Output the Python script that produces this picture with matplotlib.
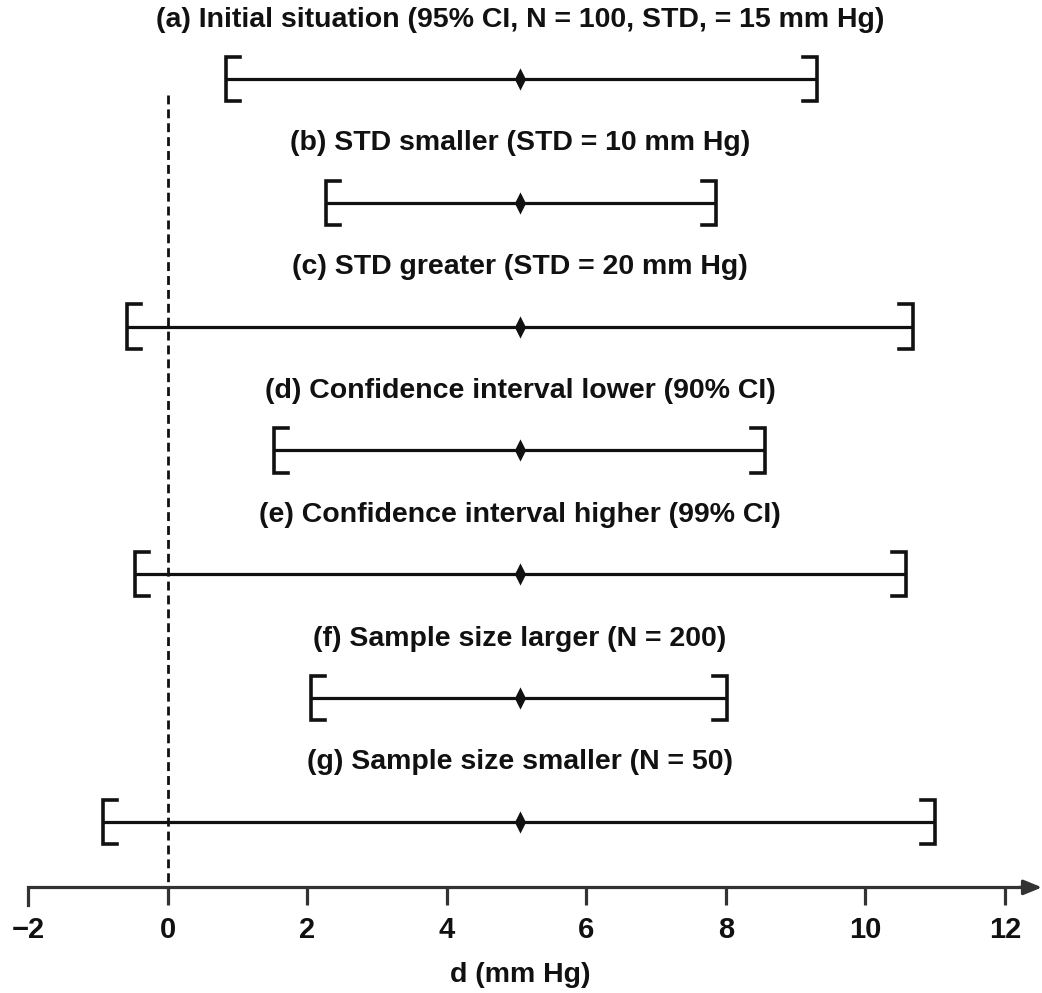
import matplotlib.pyplot as plt

# 各区間の値 (d, mm Hg)
titles = [
    '(a) Initial situation (95% CI, N = 100, STD, = 15 mm Hg)',
    '(b) STD smaller (STD = 10 mm Hg)',
    '(c) STD greater (STD = 20 mm Hg)',
    '(d) Confidence interval lower (90% CI)',
    '(e) Confidence interval higher (99% CI)',
    '(f) Sample size larger (N = 200)',
    '(g) Sample size smaller (N = 50)',
]
means = [5.05, 5.05, 5.05, 5.05, 5.05, 5.05, 5.05]
lower = [0.84, 2.27, -0.58, 1.53, -0.46, 2.06, -0.93]
upper = [9.30, 7.86, 10.68, 8.56, 10.58, 8.01, 11.00]
ticks = [-2, 0, 2, 4, 6, 8, 10, 12]

plt.rcParams['font.family'] = ['Liberation Sans', 'DejaVu Sans']
plt.rcParams['font.weight'] = 'bold'

fig = plt.figure(figsize=(10.42, 9.93), dpi=100)
ax = fig.add_axes([0, 0, 1, 1])
ax.set_xlim(-2.40, 12.53)
ax.set_ylim(7.383, -0.638)
ax.axis('off')

lw = 2.3
bw = 0.2    # 括弧の横幅
bh = 0.18   # 括弧の高さ(半分)
ax_y = 6.53
diamond = [(0, 1), (0.5, 0), (0, -1), (-0.5, 0), (0, 1)]

for i in range(len(titles)):
    lo, hi, m = lower[i], upper[i], means[i]
    ax.plot([lo, hi], [i, i], color='#111111', lw=lw, solid_capstyle='butt', zorder=3)
    ax.plot([lo + bw, lo, lo, lo + bw], [i - bh, i - bh, i + bh, i + bh],
            color='#111111', lw=2.6, solid_joinstyle='miter', zorder=3)
    ax.plot([hi - bw, hi, hi, hi - bw], [i - bh, i - bh, i + bh, i + bh],
            color='#111111', lw=2.6, solid_joinstyle='miter', zorder=3)
    ax.plot([m], [i], marker=diamond, ms=16, mew=0, color='#111111', zorder=4)
    ax.text(m, i - 0.48, titles[i], ha='center', va='center',
            fontsize=20.5, fontweight='bold', color='#111111')

# 0の点線
ax.plot([0, 0], [0.13, ax_y], color='#111111', lw=2.0, ls=(0, (3.2, 1.8)), zorder=2)

# x軸
tick_len = 0.145
ax.plot([ticks[0], ticks[0], 12.3], [ax_y + tick_len, ax_y, ax_y],
        color='#333333', lw=lw, solid_joinstyle='miter', zorder=3)
ax.annotate('', xy=(12.53, ax_y), xytext=(12.2, ax_y),
            arrowprops=dict(arrowstyle='-|>,head_length=1.1,head_width=0.45',
                            color='#333333', lw=lw, shrinkA=0, shrinkB=0))
for t in ticks[1:]:
    ax.plot([t, t], [ax_y, ax_y + tick_len], color='#333333', lw=lw, solid_capstyle='butt')
for t in ticks:
    lab = '\u22122' if t < 0 else str(t)
    ax.text(t, 6.874, lab, ha='center', va='center', fontsize=21,
            fontweight='bold', color='#111111')
ax.text(5.05, 7.24, 'd (mm Hg)', ha='center', va='center', fontsize=20.5,
        fontweight='bold', color='#111111')

fig.savefig('out.png', dpi=100)
